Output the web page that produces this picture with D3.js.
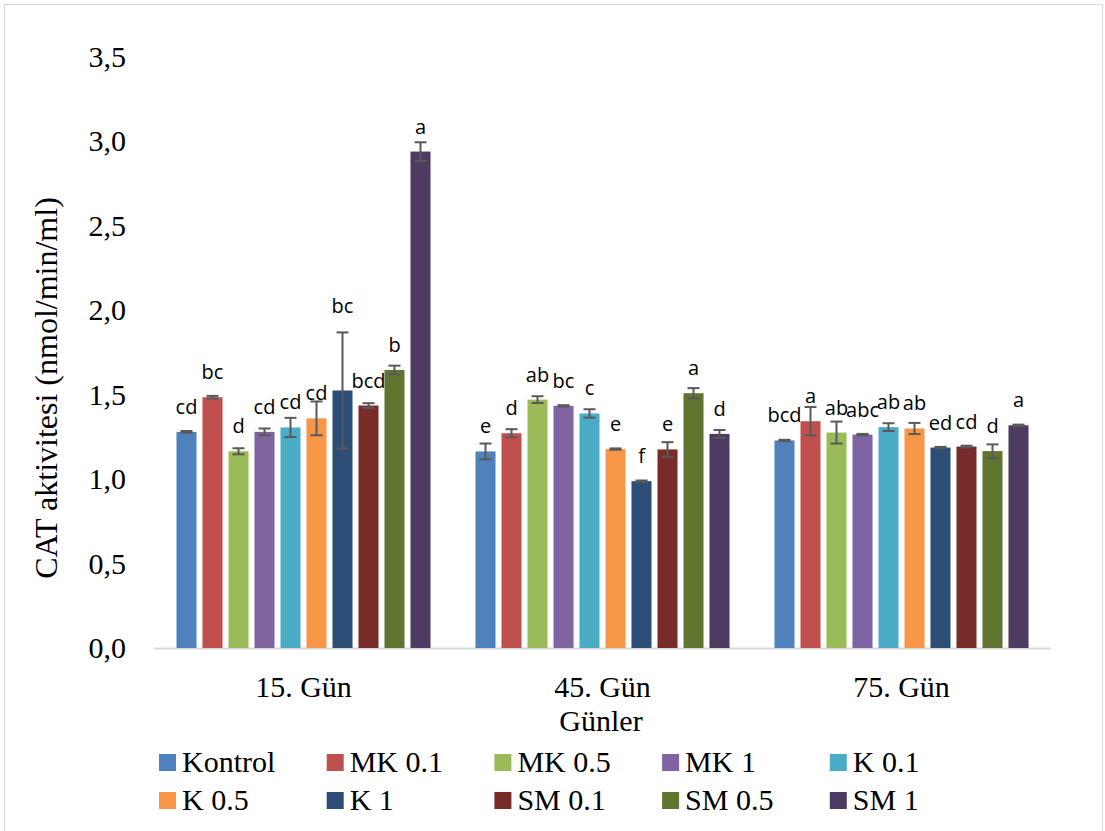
<!DOCTYPE html>
<html>
<head>
<meta charset="utf-8">
<script src="https://cdn.jsdelivr.net/npm/d3@7"></script>
<style>
  body { margin: 0; background: #fff; }
  svg { display: block; }
</style>
</head>
<body>
<svg id="chart"></svg>
<script>
const days = ["15. Gün", "45. Gün", "75. Gün"];
const groups = ["Kontrol", "MK 0.1", "MK 0.5", "MK 1", "K 0.1", "K 0.5", "K 1", "SM 0.1", "SM 0.5", "SM 1"];
const colors = ["#4F81BD", "#C0504D", "#9BBB59", "#8064A2", "#4BACC6", "#F79646", "#2C4D75", "#772C2A", "#5F7530", "#4D3B62"];

// ortalama değerler (gün x grup)
const means = [
  [1.28, 1.485, 1.165, 1.28, 1.306, 1.36, 1.525, 1.436, 1.647, 2.94],
  [1.164, 1.272, 1.471, 1.434, 1.389, 1.178, 0.988, 1.176, 1.509, 1.268],
  [1.229, 1.343, 1.276, 1.264, 1.308, 1.30, 1.187, 1.193, 1.166, 1.319]
];
// standart hata
const errors = [
  [0.005, 0.008, 0.018, 0.02, 0.057, 0.10, 0.344, 0.014, 0.025, 0.055],
  [0.047, 0.024, 0.02, 0.004, 0.025, 0.004, 0.004, 0.043, 0.03, 0.023],
  [0.004, 0.084, 0.065, 0.004, 0.023, 0.033, 0.004, 0.005, 0.04, 0.004]
];
// harf grupları
const letters = [
  ["cd", "bc", "d", "cd", "cd", "cd", "bc", "bcd", "b", "a"],
  ["e", "d", "ab", "bc", "c", "e", "f", "e", "a", "d"],
  ["bcd", "a", "ab", "abc", "ab", "ab", "ed", "cd", "d", "a"]
];
const yTicks = [0, 0.5, 1, 1.5, 2, 2.5, 3, 3.5];

const W = 1105, H = 831;
const svg = d3.select("#chart").attr("width", W).attr("height", H);

// çerçeve
svg.append("rect")
  .attr("x", 4.5).attr("y", 4.5)
  .attr("width", 1098).attr("height", 830)
  .attr("fill", "#fff").attr("stroke", "#d9d9d9").attr("stroke-width", 1);

const x0 = d3.scaleBand().domain(days).range([154, 1051]);
const x1 = d3.scaleBand().domain(groups).range([0, x0.bandwidth()])
  .paddingInner(0.23).paddingOuter(0.865);
const y = d3.scaleLinear().domain([0, 3.5]).range([648, 57]);

const serif = "'Liberation Serif', 'Times New Roman', serif";

// y ekseni etiketleri
svg.append("g")
  .selectAll("text")
  .data(yTicks)
  .join("text")
  .attr("x", 126)
  .attr("y", d => y(d) + 10)
  .attr("text-anchor", "end")
  .style("font-family", serif)
  .style("font-size", "30px")
  .text(d => d3.format(".1f")(d).replace(".", ","));

// x ekseni çizgisi
svg.append("line")
  .attr("x1", 154).attr("x2", 1051)
  .attr("y1", 648.5).attr("y2", 648.5)
  .attr("stroke", "#d9d9d9").attr("stroke-width", 2);

// çubuklar
const rows = [];
days.forEach((day, i) => {
  groups.forEach((g, j) => {
    rows.push({ day, g, j, v: means[i][j], e: errors[i][j], lab: letters[i][j] });
  });
});

const plot = svg.append("g");

plot.selectAll(".bar")
  .data(rows)
  .join("rect")
  .attr("class", "bar")
  .attr("x", d => x0(d.day) + x1(d.g))
  .attr("width", x1.bandwidth())
  .attr("y", d => y(d.v))
  .attr("height", d => y(0) - y(d.v))
  .attr("fill", d => colors[d.j]);

// hata çubukları
const eb = plot.selectAll(".err")
  .data(rows)
  .join("g")
  .attr("class", "err")
  .attr("stroke", "#595959")
  .attr("stroke-width", 2);

eb.append("line")
  .attr("x1", d => x0(d.day) + x1(d.g) + x1.bandwidth() / 2)
  .attr("x2", d => x0(d.day) + x1(d.g) + x1.bandwidth() / 2)
  .attr("y1", d => y(d.v - d.e))
  .attr("y2", d => y(d.v + d.e));

eb.selectAll(".cap")
  .data(d => [d.v - d.e, d.v + d.e].map(val => ({ d, val })))
  .join("line")
  .attr("x1", o => x0(o.d.day) + x1(o.d.g) + x1.bandwidth() / 2 - 6)
  .attr("x2", o => x0(o.d.day) + x1(o.d.g) + x1.bandwidth() / 2 + 6)
  .attr("y1", o => y(o.val))
  .attr("y2", o => y(o.val));

// harf etiketleri
plot.selectAll(".lab")
  .data(rows)
  .join("text")
  .attr("class", "lab")
  .attr("x", d => x0(d.day) + x1(d.g) + x1.bandwidth() / 2)
  .attr("y", d => (d.e > 0.15 ? y(d.v + d.e) - 19 : y(d.v) - 18))
  .attr("text-anchor", "middle")
  .style("font-family", "'Open Sans', sans-serif")
  .style("font-size", "20px")
  .attr("fill", "#000")
  .text(d => d.lab);

// x ekseni etiketleri
svg.append("g")
  .selectAll("text")
  .data(days)
  .join("text")
  .attr("x", d => x0(d) + x0.bandwidth() / 2)
  .attr("y", 697)
  .attr("text-anchor", "middle")
  .style("font-family", serif)
  .style("font-size", "30px")
  .text(d => d);

// eksen başlıkları
svg.append("text")
  .attr("x", 601).attr("y", 731)
  .attr("text-anchor", "middle")
  .style("font-family", serif)
  .style("font-size", "30px")
  .text("Günler");

svg.append("text")
  .attr("transform", "translate(57,388) rotate(-90)")
  .attr("text-anchor", "middle")
  .style("font-family", serif)
  .style("font-size", "32px")
  .text("CAT aktivitesi (nmol/min/ml)");

// lejant
const leg = svg.append("g")
  .selectAll("g")
  .data(groups)
  .join("g")
  .attr("transform", (d, i) => `translate(${159 + (i % 5) * 167.7},${754 + Math.floor(i / 5) * 38})`);

leg.append("rect")
  .attr("width", 17).attr("height", 17)
  .attr("fill", (d, i) => colors[i]);

leg.append("text")
  .attr("x", 23).attr("y", 18)
  .style("font-family", serif)
  .style("font-size", "30px")
  .text(d => d);
</script>
</body>
</html>
